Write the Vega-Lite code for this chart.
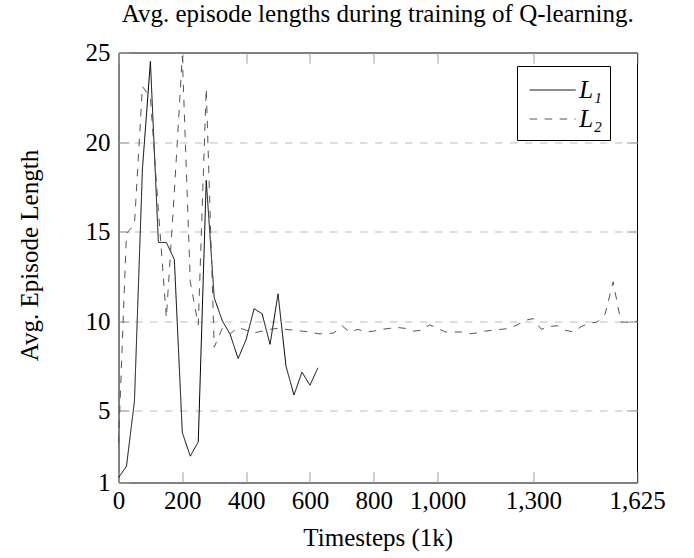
{
  "$schema": "https://vega.github.io/schema/vega-lite/v6.json",
  "width": 518.5,
  "height": 430,
  "autosize": {"type": "none"},
  "padding": {"left": 118.5, "top": 52.5, "right": 57, "bottom": 75},
  "background": "white",
  "title": {
    "text": "Avg. episode lengths during training of Q-learning.",
    "font": "Liberation Serif",
    "fontSize": 25,
    "fontWeight": "normal",
    "color": "black",
    "anchor": "middle",
    "frame": "group",
    "baseline": "alphabetic",
    "offset": -6
  },
  "data": {
    "values": [
      {"t": 0, "len": 1.27, "series": "L₁"},
      {"t": 25, "len": 1.91, "series": "L₁"},
      {"t": 50, "len": 5.54, "series": "L₁"},
      {"t": 75, "len": 18.5, "series": "L₁"},
      {"t": 100, "len": 24.5, "series": "L₁"},
      {"t": 125, "len": 14.4, "series": "L₁"},
      {"t": 150, "len": 14.4, "series": "L₁"},
      {"t": 175, "len": 13.45, "series": "L₁"},
      {"t": 200, "len": 3.78, "series": "L₁"},
      {"t": 225, "len": 2.47, "series": "L₁"},
      {"t": 250, "len": 3.27, "series": "L₁"},
      {"t": 275, "len": 17.86, "series": "L₁"},
      {"t": 300, "len": 11.31, "series": "L₁"},
      {"t": 325, "len": 10.04, "series": "L₁"},
      {"t": 350, "len": 9.26, "series": "L₁"},
      {"t": 375, "len": 7.92, "series": "L₁"},
      {"t": 400, "len": 8.98, "series": "L₁"},
      {"t": 425, "len": 10.7, "series": "L₁"},
      {"t": 450, "len": 10.42, "series": "L₁"},
      {"t": 475, "len": 8.71, "series": "L₁"},
      {"t": 500, "len": 11.53, "series": "L₁"},
      {"t": 525, "len": 7.49, "series": "L₁"},
      {"t": 550, "len": 5.88, "series": "L₁"},
      {"t": 575, "len": 7.16, "series": "L₁"},
      {"t": 600, "len": 6.43, "series": "L₁"},
      {"t": 625, "len": 7.4, "series": "L₁"},
      {"t": 0, "len": 3.2, "series": "L₂"},
      {"t": 25, "len": 14.9, "series": "L₂"},
      {"t": 50, "len": 15.4, "series": "L₂"},
      {"t": 75, "len": 23.1, "series": "L₂"},
      {"t": 100, "len": 22.5, "series": "L₂"},
      {"t": 125, "len": 16.2, "series": "L₂"},
      {"t": 150, "len": 10.2, "series": "L₂"},
      {"t": 175, "len": 17.2, "series": "L₂"},
      {"t": 200, "len": 24.8, "series": "L₂"},
      {"t": 225, "len": 12.2, "series": "L₂"},
      {"t": 250, "len": 9.8, "series": "L₂"},
      {"t": 275, "len": 23.0, "series": "L₂"},
      {"t": 300, "len": 8.55, "series": "L₂"},
      {"t": 325, "len": 9.6, "series": "L₂"},
      {"t": 350, "len": 9.3, "series": "L₂"},
      {"t": 375, "len": 9.65, "series": "L₂"},
      {"t": 400, "len": 9.5, "series": "L₂"},
      {"t": 425, "len": 9.35, "series": "L₂"},
      {"t": 450, "len": 9.45, "series": "L₂"},
      {"t": 475, "len": 9.55, "series": "L₂"},
      {"t": 500, "len": 9.6, "series": "L₂"},
      {"t": 525, "len": 9.55, "series": "L₂"},
      {"t": 550, "len": 9.5, "series": "L₂"},
      {"t": 575, "len": 9.45, "series": "L₂"},
      {"t": 600, "len": 9.4, "series": "L₂"},
      {"t": 625, "len": 9.3, "series": "L₂"},
      {"t": 650, "len": 9.3, "series": "L₂"},
      {"t": 675, "len": 9.35, "series": "L₂"},
      {"t": 700, "len": 9.75, "series": "L₂"},
      {"t": 725, "len": 9.4, "series": "L₂"},
      {"t": 750, "len": 9.55, "series": "L₂"},
      {"t": 775, "len": 9.4, "series": "L₂"},
      {"t": 800, "len": 9.45, "series": "L₂"},
      {"t": 825, "len": 9.55, "series": "L₂"},
      {"t": 850, "len": 9.6, "series": "L₂"},
      {"t": 875, "len": 9.65, "series": "L₂"},
      {"t": 900, "len": 9.6, "series": "L₂"},
      {"t": 925, "len": 9.45, "series": "L₂"},
      {"t": 950, "len": 9.5, "series": "L₂"},
      {"t": 975, "len": 9.8, "series": "L₂"},
      {"t": 1000, "len": 9.6, "series": "L₂"},
      {"t": 1025, "len": 9.4, "series": "L₂"},
      {"t": 1050, "len": 9.4, "series": "L₂"},
      {"t": 1075, "len": 9.4, "series": "L₂"},
      {"t": 1100, "len": 9.3, "series": "L₂"},
      {"t": 1125, "len": 9.35, "series": "L₂"},
      {"t": 1150, "len": 9.45, "series": "L₂"},
      {"t": 1175, "len": 9.5, "series": "L₂"},
      {"t": 1200, "len": 9.55, "series": "L₂"},
      {"t": 1225, "len": 9.6, "series": "L₂"},
      {"t": 1250, "len": 9.8, "series": "L₂"},
      {"t": 1275, "len": 10.05, "series": "L₂"},
      {"t": 1300, "len": 10.15, "series": "L₂"},
      {"t": 1325, "len": 9.55, "series": "L₂"},
      {"t": 1350, "len": 9.7, "series": "L₂"},
      {"t": 1375, "len": 9.75, "series": "L₂"},
      {"t": 1400, "len": 9.5, "series": "L₂"},
      {"t": 1425, "len": 9.4, "series": "L₂"},
      {"t": 1450, "len": 9.7, "series": "L₂"},
      {"t": 1475, "len": 9.9, "series": "L₂"},
      {"t": 1500, "len": 9.95, "series": "L₂"},
      {"t": 1525, "len": 10.4, "series": "L₂"},
      {"t": 1550, "len": 12.2, "series": "L₂"},
      {"t": 1575, "len": 9.95, "series": "L₂"},
      {"t": 1600, "len": 9.95, "series": "L₂"},
      {"t": 1625, "len": 10.0, "series": "L₂"}
    ]
  },
  "layer": [
    {
      "mark": {"type": "line", "opacity": 0},
      "encoding": {
        "x": {
          "field": "t", "type": "quantitative",
          "scale": {"domain": [0, 1625], "nice": false, "zero": false},
          "axis": {"orient": "top", "labels": false, "title": null, "values": [0, 200, 400, 600, 800, 1000, 1300, 1625], "tickSize": -10.7, "tickColor": "#a0a0a0", "domain": false, "grid": false}
        },
        "y": {
          "field": "len", "type": "quantitative",
          "scale": {"domain": [1, 25], "nice": false, "zero": false},
          "axis": {"orient": "right", "labels": false, "title": null, "values": [5, 10, 15, 20], "tickSize": -10.7, "tickColor": "#a0a0a0", "domain": false, "grid": true, "gridDash": [7.5, 7.5], "gridColor": "#bdbdbd", "gridWidth": 1}
        },
        "detail": {"field": "series"}
      }
    },
    {
      "mark": {"type": "line", "strokeWidth": 1},
      "encoding": {
        "x": {
          "field": "t", "type": "quantitative",
          "axis": {"orient": "bottom", "title": "Timesteps (1k)", "values": [0, 200, 400, 600, 800, 1000, 1300, 1625], "format": ",d", "labelFlush": false, "labelOverlap": false, "tickSize": -10.7, "tickColor": "#a0a0a0", "labelPadding": 37.1, "labelBaseline": "alphabetic", "domain": false, "grid": false, "titleY": 63.4, "titleBaseline": "alphabetic"}
        },
        "y": {
          "field": "len", "type": "quantitative",
          "axis": {"orient": "left", "title": "Avg. Episode Length", "values": [1, 5, 10, 15, 20, 25], "format": "d", "labelOverlap": false, "tickSize": -10.7, "tickColor": "#a0a0a0", "labelPadding": 19.2, "domain": false, "grid": false, "titleX": -81.5, "titleY": 202.5, "titleAngle": 270, "titleAlign": "center", "titleBaseline": "alphabetic"}
        },
        "color": {
          "field": "series", "type": "nominal", "title": null,
          "scale": {"domain": ["L₁", "L₂"], "range": ["#000000", "#555555"]}
        },
        "strokeDash": {
          "field": "series", "type": "nominal", "title": null,
          "scale": {"domain": ["L₁", "L₂"], "range": [[1, 0], [7.5, 7.5]]}
        }
      }
    }
  ],
  "resolve": {"axis": {"x": "independent", "y": "independent"}},
  "config": {
    "view": {"stroke": "#000000", "strokeWidth": 1},
    "axis": {
      "labelFont": "Liberation Serif", "labelFontSize": 25, "labelColor": "#000000",
      "titleFont": "Liberation Serif", "titleFontSize": 25, "titleFontWeight": "normal", "titleColor": "#000000",
      "tickWidth": 1
    },
    "legend": {
      "orient": "none", "legendX": 398.5, "legendY": 13.5,
      "strokeColor": "#000000", "fillColor": "#ffffff", "padding": 8, "cornerRadius": 0,
      "symbolType": "M-1.5,0H1.5", "symbolSize": 940, "symbolStrokeWidth": 1, "symbolOffset": 11.65,
      "labelFont": "Liberation Serif", "labelFontSize": 25, "labelFontStyle": "italic", "labelColor": "#000000",
      "labelExpr": "datum.label + '\u00a0\u00a0\u00a0'",
      "rowPadding": 0, "labelOffset": 10.65
    }
  }
}
